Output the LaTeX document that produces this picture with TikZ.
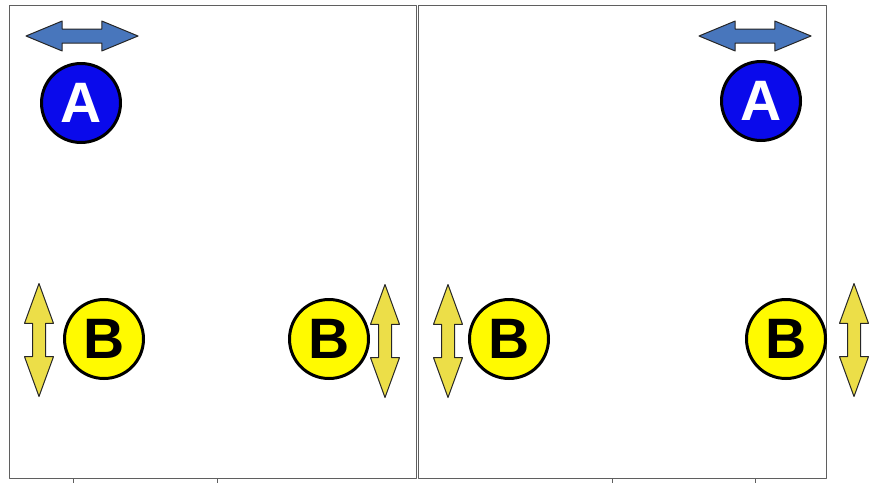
\documentclass[tikz,border=0pt]{standalone}
\usepackage{fontspec}
\setmainfont{Liberation Sans}
\usetikzlibrary{shapes.arrows}
\definecolor{markblue}{RGB}{10,10,235}
\definecolor{arrowblue}{RGB}{72,118,188}
\definecolor{markyellow}{RGB}{255,250,0}
\definecolor{arrowyellow}{RGB}{236,222,72}
\definecolor{panelgray}{RGB}{95,95,95}

\begin{document}
\begin{tikzpicture}[
			x=1pt, y=-1pt,
			line cap=round,
			line join=round,
			panel/.style={draw=panelgray, line width=1pt},
			marker/.style={circle, draw=black, line width=3pt, minimum size=79pt, inner sep=0pt, font=\fontsize{57}{57}\selectfont\bfseries},
			marka/.style={marker, fill=markblue, text=white},
			markb/.style={marker, fill=markyellow, text=black},
			slider/.style={double arrow, draw=black!85, line width=1pt, inner xsep=0pt},
			hslider/.style={slider, fill=arrowblue, inner ysep=6.5pt, double arrow head extend=8pt, double arrow tip angle=45, minimum height=112pt},
			vslider/.style={slider, fill=arrowyellow, rotate=90, inner ysep=6pt, double arrow head extend=8pt, double arrow tip angle=40, minimum height=113pt}
			]
			\useasboundingbox (0,0) rectangle (875,482);
			
			% the two panels and their feet
			\draw[panel] (9,5) rectangle (416,478);
			\draw[panel] (418,5) rectangle (826,478);
			\draw[panel, line width=0.8pt] (73,484) |- (217,478) -- (217,484);
			\draw[panel, line width=0.8pt] (612,484) |- (755,478) -- (755,484);
			
			\node[hslider] (sa1) at (82,36) {};
			\node[hslider] (sa2) at (755,36) {};
			\node[marka] (a1) at (81,103) {A};
			\node[marka] (a2) at (761,101) {A};
			
			\node[vslider] (sb1) at (39,340) {};
			\node[vslider] (sb2) at (385,341) {};
			\node[vslider] (sb3) at (448,341) {};
			\node[vslider] (sb4) at (854,340) {};
			\node[markb] (b1) at (104,339) {B};
			\node[markb] (b2) at (329,339) {B};
			\node[markb] (b3) at (509,339) {B};
			\node[markb] (b4) at (786,339) {B};
		\end{tikzpicture}
\end{document}
